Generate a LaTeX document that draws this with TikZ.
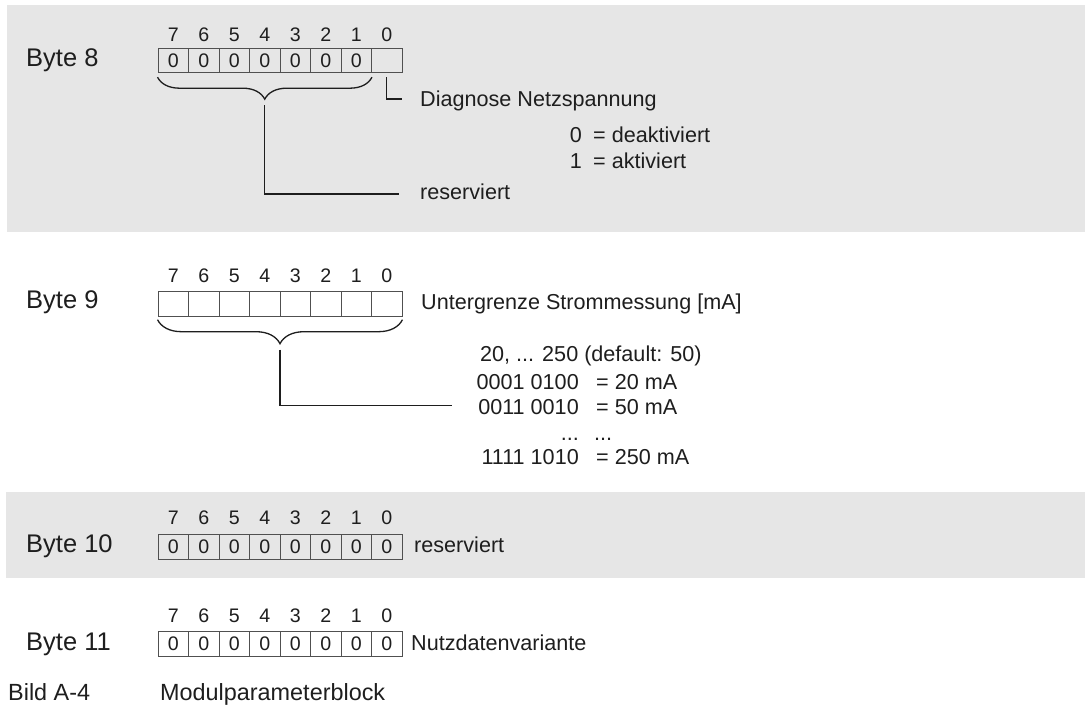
\documentclass[tikz,border=0pt]{standalone}
\usepackage{fontspec}
\setmainfont{Liberation Sans}
\usetikzlibrary{decorations.pathreplacing,calc}
\definecolor{band}{HTML}{E6E6E6}
\definecolor{ink}{HTML}{1E1E1E}
\definecolor{cellline}{HTML}{505050}
\newcommand\szbyte{\fontsize{25.5pt}{30pt}\selectfont}
\newcommand\szbody{\fontsize{21.6pt}{26pt}\selectfont}
\newcommand\szbit{\fontsize{19.6pt}{23pt}\selectfont}
\newcommand\szcap{\fontsize{23.4pt}{28pt}\selectfont}
\tikzset{
  cell/.style={draw=cellline, line width=0.9pt, minimum width=30.5pt,
    minimum height=24.5pt, inner sep=0pt, font=\szbit, text=ink},
  bitnum/.style={anchor=base, inner sep=0pt, font=\szbit, text=ink},
  lbl/.style={anchor=base west, inner sep=0pt, font=\szbody, text=ink},
  lblr/.style={anchor=base east, inner sep=0pt, font=\szbody, text=ink},
  bytelbl/.style={anchor=base west, inner sep=0pt, font=\szbyte, text=ink},
  caplbl/.style={anchor=base west, inner sep=0pt, font=\szcap, text=ink},
  wire/.style={draw=ink, line width=1.3pt},
  bracepath/.style={wire, decorate, decoration={brace, mirror, amplitude=#1}}
}
\begin{document}
\begin{tikzpicture}[x=1pt, y=-1pt]
\useasboundingbox (0,0) rectangle (1085,708);
\fill[white] (0,0) rectangle (1085,708);
% shaded bands behind bytes 8 and 10
\fill[band] (7,5) rectangle (1085,232);
\fill[band] (6,492) rectangle (1085,578);

% ---------- Byte 8 ----------
\node[bytelbl] (l8) at (26,67) {Byte 8};
\foreach \b in {7,...,0}{
  \node[cell] (b8-\b) at ({158+30.5*(7-\b)+15.25},60.5) {\ifnum\b>0 0\fi};
  \node[bitnum] (n8-\b) at ({158+30.5*(7-\b)+15.25},42) {\b};
}
\draw[bracepath=22pt] ([yshift=-4pt]b8-7.south west) -- ([yshift=-4pt]b8-1.south east);
\coordinate (t8) at ($(b8-7.south west)!0.5!(b8-1.south east)+(0,32)$);
\coordinate (r8) at (399,194);
\draw[wire] (t8) |- (r8);
\coordinate (d8) at (402,99);
\draw[wire] ([yshift=-4pt]b8-0.south) |- (d8);
\node[lbl] (diag) at (420,107) {Diagnose Netzspannung};
\node[lblr] (v0) at (582,143) {0};
\node[lbl] (v0t) at (593,143) {= deaktiviert};
\node[lblr] (v1) at (582,169) {1};
\node[lbl] (v1t) at (593,169) {= aktiviert};
\node[lbl] (res8) at (420,200) {reserviert};

% ---------- Byte 9 ----------
\node[bytelbl] (l9) at (26,309) {Byte 9};
\foreach \b in {7,...,0}{
  \node[cell] (b9-\b) at ({158+30.5*(7-\b)+15.25},304) {};
  \node[bitnum] (n9-\b) at ({158+30.5*(7-\b)+15.25},283) {\b};
}
\draw[bracepath=24pt] ([yshift=-3pt]b9-7.south west) -- ([yshift=-3pt]b9-0.south east);
\coordinate (t9) at ($(b9-7.south west)!0.5!(b9-0.south east)+(0,33)$);
\coordinate (r9) at (452,405.5);
\draw[wire] (t9) |- (r9);
\node[lbl] (unt) at (421,310) {Untergrenze Strommessung [mA]};
\node[lbl] (rng) at (480,362) {20, ... 250 (default: 50)};
\node[lblr] (c1) at (579,390) {0001 0100};
\node[lbl] (c1t) at (596,390) {= 20 mA};
\node[lblr] (c2) at (579,415) {0011 0010};
\node[lbl] (c2t) at (596,415) {= 50 mA};
\node[lblr] (c3) at (579,441) {...};
\node[lbl] (c3t) at (594,441) {...};
\node[lblr] (c4) at (579,465) {1111 1010};
\node[lbl] (c4t) at (596,465) {= 250 mA};

% ---------- Byte 10 ----------
\node[bytelbl] (l10) at (26,552) {Byte 10};
\foreach \b in {7,...,0}{
  \node[cell] (b10-\b) at ({158+30.5*(7-\b)+15.25},547) {0};
  \node[bitnum] (n10-\b) at ({158+30.5*(7-\b)+15.25},525) {\b};
}
\node[lbl] (res10) at (414,552) {reserviert};

% ---------- Byte 11 ----------
\node[bytelbl] (l11) at (26,650) {Byte 11};
\foreach \b in {7,...,0}{
  \node[cell] (b11-\b) at ({158+30.5*(7-\b)+15.25},644) {0};
  \node[bitnum] (n11-\b) at ({158+30.5*(7-\b)+15.25},622) {\b};
}
\node[lbl] (nutz) at (411,650) {Nutzdatenvariante};

% ---------- caption ----------
\node[caplbl] (bild) at (8,700) {Bild A-4};
\node[caplbl] (titel) at (160,700) {Modulparameterblock};
\end{tikzpicture}
\end{document}
